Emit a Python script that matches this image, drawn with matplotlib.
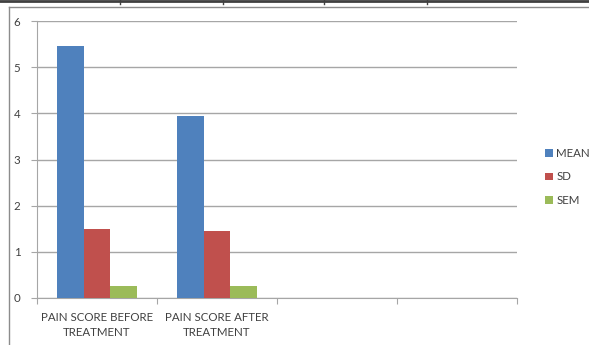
import matplotlib.pyplot as plt
from matplotlib.lines import Line2D
import numpy as np

# Data
categories = ["PAIN SCORE BEFORE\nTREATMENT", "PAIN SCORE AFTER\nTREATMENT", "", ""]
mean_vals = [5.45, 3.95]
sd_vals = [1.50, 1.46]
sem_vals = [0.26, 0.26]
series_names = ["MEAN", "SD", "SEM"]
colors = ["#4F81BD", "#C0504D", "#9BBB59"]

plt.rcParams["font.family"] = ["Lato", "DejaVu Sans"]

W, H = 589, 345
fig = plt.figure(figsize=(W / 100, H / 100), dpi=100)
ax = fig.add_axes([37 / W, 1 - 298 / H, 480 / W, 277 / H])

width = 2 / 9
x = np.arange(len(mean_vals))
for i, (vals, name) in enumerate(zip([mean_vals, sd_vals, sem_vals], series_names)):
    ax.bar(x + (i - 1) * width, vals, width, color=colors[i], label=name, zorder=3)

ax.set_xlim(-0.5, 3.5)
ax.set_ylim(0, 6)
ax.set_yticks(range(0, 7))
ax.yaxis.grid(True, color="#a6a6a6", linewidth=1)
ax.set_axisbelow(True)

# category boundaries as ticks, labels centred in categories
ax.set_xticks(np.arange(-0.5, 4, 1))
ax.set_xticklabels([])
ax.set_xticks(np.arange(len(categories)), minor=True)
ax.set_xticklabels(categories, minor=True, fontsize=8.3, color="#404040", linespacing=1.45)
ax.tick_params(axis="x", which="minor", length=0, pad=10)
ax.tick_params(axis="x", which="major", length=4, color="#a6a6a6")
ax.tick_params(axis="y", length=4, color="#a6a6a6", labelsize=8.3, labelcolor="#404040", pad=8)

for s in ["top", "right"]:
    ax.spines[s].set_visible(False)
for s in ["left", "bottom"]:
    ax.spines[s].set_color("#a6a6a6")

leg = fig.legend(loc="center left", bbox_to_anchor=(535 / W, 1 - 177 / H), frameon=False,
                 fontsize=8.3, handlelength=0.65, handleheight=0.65, handletextpad=0.3,
                 labelspacing=1.1)
for t in leg.get_texts():
    t.set_color("#404040")

# outer frame of the chart object
fig.add_artist(Line2D([9 / W, 9 / W], [0, 1 - 7 / H], color="#8c8c8c", linewidth=1))
fig.add_artist(Line2D([9 / W, 1], [1 - 7 / H, 1 - 7 / H], color="#8c8c8c", linewidth=1))
fig.add_artist(Line2D([0, 1], [1 - 1 / H, 1 - 1 / H], color="#404040", linewidth=2))
for px in [120, 223, 324, 427]:
    fig.add_artist(Line2D([px / W, px / W], [1 - 4 / H, 1], color="#404040", linewidth=1))

fig.savefig("out.png", dpi=100)
